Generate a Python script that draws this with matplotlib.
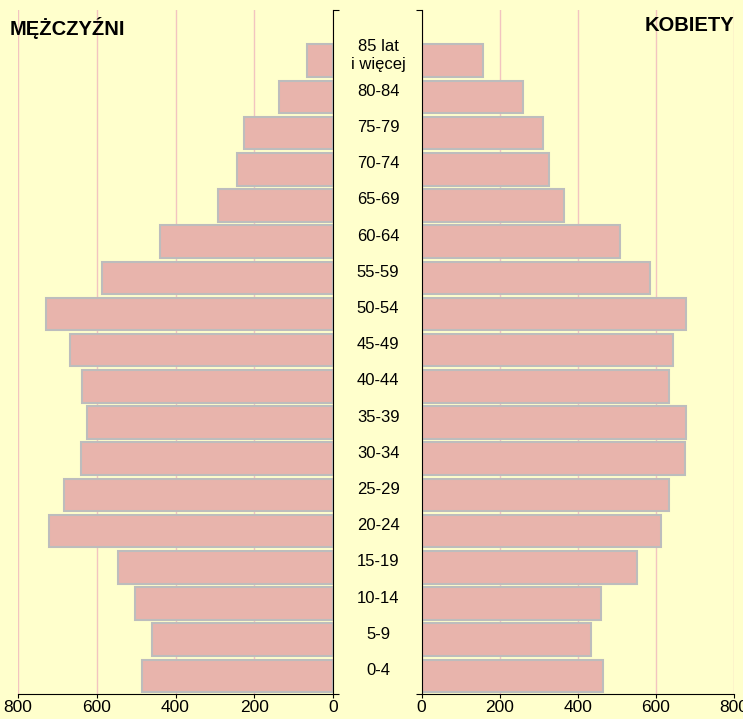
"""
Piramida wieku: mężczyźni (lewa strona) i kobiety (prawa strona).
Saves out.png (743x719).
"""

import matplotlib.pyplot as plt

plt.rcParams['font.family'] = ['Liberation Sans', 'DejaVu Sans']

# data ------------------------------------------------------------------------

age_groups = ["0-4", "5-9", "10-14", "15-19", "20-24", "25-29", "30-34",
              "35-39", "40-44", "45-49", "50-54", "55-59", "60-64", "65-69",
              "70-74", "75-79", "80-84", "85 lat\ni więcej"]
men = [485, 459, 504, 545, 722, 683, 640, 624, 638, 667, 730, 586, 439,
       293, 244, 226, 138, 67]
women = [464, 434, 460, 552, 614, 633, 675, 676, 633, 645, 676, 585, 509,
         365, 326, 312, 261, 157]
x_ticks = [0, 200, 400, 600, 800]

# style -----------------------------------------------------------------------

BG = "#FFFFCC"
BAR = "#E8B4AC"
EDGE = "#BDBDBD"
GRID = "#F2C4C0"

W, H = 743, 719
fig = plt.figure(figsize=(W / 100, H / 100), dpi=100, facecolor=BG)

top_px, bot_px = 10, 694
ax_b = 1 - bot_px / H
ax_h = (bot_px - top_px) / H
ax_l = fig.add_axes([18 / W, ax_b, 315 / W, ax_h])
ax_r = fig.add_axes([421.5 / W, ax_b, 312.5 / W, ax_h])
ax_m = fig.add_axes([333 / W, ax_b, 88.5 / W, ax_h])

ylim = (-0.5, 18.4)
ypos = list(range(len(age_groups)))

for ax, vals in ((ax_l, men), (ax_r, women)):
    ax.set_facecolor(BG)
    ax.barh(ypos, vals, height=0.9, color=BAR, edgecolor=EDGE,
            linewidth=1.5, zorder=2)
    ax.set_ylim(*ylim)
    ax.set_xticks(x_ticks)
    ax.tick_params(axis="x", labelsize=12.5, length=3, width=0.8, pad=1)
    ax.xaxis.grid(True, color=GRID, linewidth=1.0, zorder=0)
    ax.set_axisbelow(True)
    ax.set_yticks([ylim[0], ylim[1]])
    ax.set_yticklabels([])
    ax.tick_params(axis="y", length=4, width=0.8, direction="out")
    ax.spines["top"].set_visible(False)

ax_l.set_xlim(800, 0)
ax_l.yaxis.tick_right()
ax_l.spines["left"].set_visible(False)
ax_r.set_xlim(0, 800)
ax_r.spines["right"].set_visible(False)

ax_m.set_ylim(*ylim)
ax_m.set_xlim(0, 1)
ax_m.set_axis_off()
for y, lab in zip(ypos, age_groups):
    ax_m.text(0.51, y + 0.15, lab, ha="center", va="center", fontsize=12,
              linespacing=1.25)

fig.text(10 / W, 1 - 28 / H, "MĘŻCZYŹNI", ha="left", va="center",
         fontsize=14.5, fontweight="bold")
fig.text(734 / W, 1 - 25.5 / H, "KOBIETY", ha="right", va="center",
         fontsize=14.5, fontweight="bold")

fig.savefig("out.png", dpi=100, facecolor=BG)
